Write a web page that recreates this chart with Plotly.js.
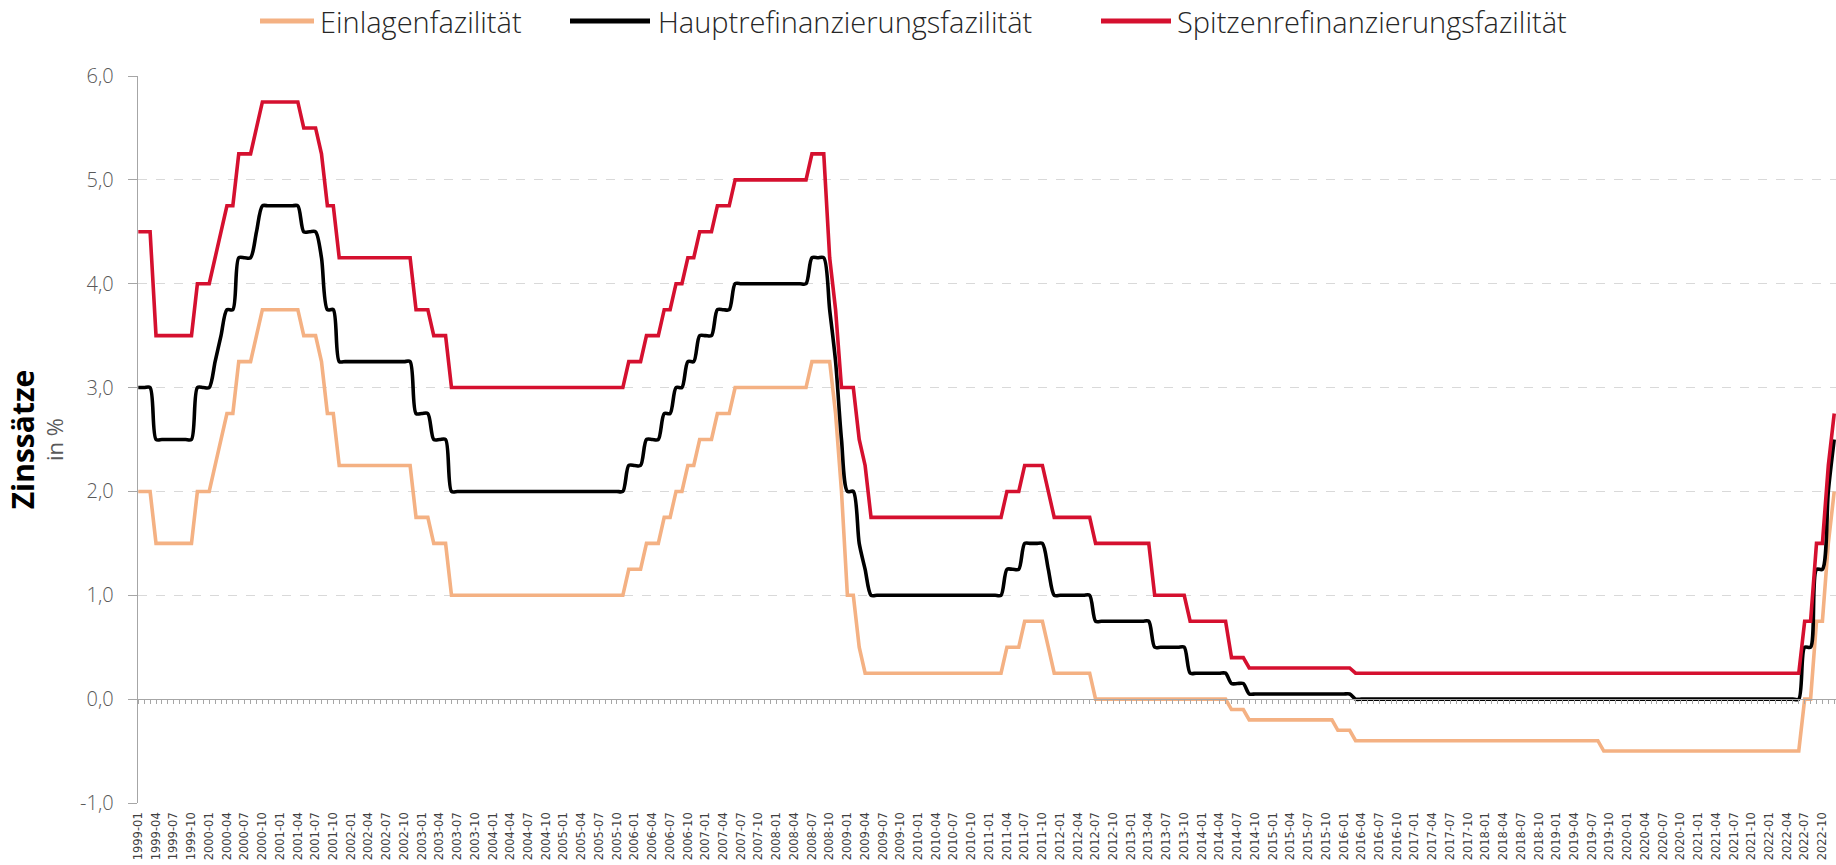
<!DOCTYPE html>
<html>
<head>
<meta charset="utf-8">
<script src="https://cdn.plot.ly/plotly-3.0.1.min.js"></script>
<style>
  html, body { margin: 0; padding: 0; background: #ffffff; }
  #chart { width: 1836px; height: 865px; }
</style>
</head>
<body>
<div id="chart"></div>
<script>
// ---- Categories (monthly, 1999-01 … 2022-12) ----
var years = [1999,2000,2001,2002,2003,2004,2005,2006,2007,2008,2009,2010,2011,2012,2013,2014,2015,2016,2017,2018,2019,2020,2021,2022];
var monthCodes = ["01","02","03","04","05","06","07","08","09","10","11","12"];
var months = [];
years.forEach(function (y) { monthCodes.forEach(function (m) { months.push(y + "-" + m); }); });

// ---- Series (month-end values, %) ----
var einlagenfazilitaet = [
  2.00,2.00,2.00,1.50,1.50,1.50,1.50,1.50,1.50,1.50,2.00,2.00,   // 1999
  2.00,2.25,2.50,2.75,2.75,3.25,3.25,3.25,3.50,3.75,3.75,3.75,   // 2000
  3.75,3.75,3.75,3.75,3.50,3.50,3.50,3.25,2.75,2.75,2.25,2.25,   // 2001
  2.25,2.25,2.25,2.25,2.25,2.25,2.25,2.25,2.25,2.25,2.25,1.75,   // 2002
  1.75,1.75,1.50,1.50,1.50,1.00,1.00,1.00,1.00,1.00,1.00,1.00,   // 2003
  1.00,1.00,1.00,1.00,1.00,1.00,1.00,1.00,1.00,1.00,1.00,1.00,   // 2004
  1.00,1.00,1.00,1.00,1.00,1.00,1.00,1.00,1.00,1.00,1.00,1.25,   // 2005
  1.25,1.25,1.50,1.50,1.50,1.75,1.75,2.00,2.00,2.25,2.25,2.50,   // 2006
  2.50,2.50,2.75,2.75,2.75,3.00,3.00,3.00,3.00,3.00,3.00,3.00,   // 2007
  3.00,3.00,3.00,3.00,3.00,3.00,3.25,3.25,3.25,3.25,2.75,2.00,   // 2008
  1.00,1.00,0.50,0.25,0.25,0.25,0.25,0.25,0.25,0.25,0.25,0.25,   // 2009
  0.25,0.25,0.25,0.25,0.25,0.25,0.25,0.25,0.25,0.25,0.25,0.25,   // 2010
  0.25,0.25,0.25,0.50,0.50,0.50,0.75,0.75,0.75,0.75,0.50,0.25,   // 2011
  0.25,0.25,0.25,0.25,0.25,0.25,0.00,0.00,0.00,0.00,0.00,0.00,   // 2012
  0.00,0.00,0.00,0.00,0.00,0.00,0.00,0.00,0.00,0.00,0.00,0.00,   // 2013
  0.00,0.00,0.00,0.00,0.00,-0.10,-0.10,-0.10,-0.20,-0.20,-0.20,-0.20, // 2014
  -0.20,-0.20,-0.20,-0.20,-0.20,-0.20,-0.20,-0.20,-0.20,-0.20,-0.20,-0.30, // 2015
  -0.30,-0.30,-0.40,-0.40,-0.40,-0.40,-0.40,-0.40,-0.40,-0.40,-0.40,-0.40, // 2016
  -0.40,-0.40,-0.40,-0.40,-0.40,-0.40,-0.40,-0.40,-0.40,-0.40,-0.40,-0.40, // 2017
  -0.40,-0.40,-0.40,-0.40,-0.40,-0.40,-0.40,-0.40,-0.40,-0.40,-0.40,-0.40, // 2018
  -0.40,-0.40,-0.40,-0.40,-0.40,-0.40,-0.40,-0.40,-0.50,-0.50,-0.50,-0.50, // 2019
  -0.50,-0.50,-0.50,-0.50,-0.50,-0.50,-0.50,-0.50,-0.50,-0.50,-0.50,-0.50, // 2020
  -0.50,-0.50,-0.50,-0.50,-0.50,-0.50,-0.50,-0.50,-0.50,-0.50,-0.50,-0.50, // 2021
  -0.50,-0.50,-0.50,-0.50,-0.50,-0.50,0.00,0.00,0.75,0.75,1.50,2.00        // 2022
];

var hauptrefinanzierung = [
  3.00,3.00,3.00,2.50,2.50,2.50,2.50,2.50,2.50,2.50,3.00,3.00,   // 1999
  3.00,3.25,3.50,3.75,3.75,4.25,4.25,4.25,4.50,4.75,4.75,4.75,   // 2000
  4.75,4.75,4.75,4.75,4.50,4.50,4.50,4.25,3.75,3.75,3.25,3.25,   // 2001
  3.25,3.25,3.25,3.25,3.25,3.25,3.25,3.25,3.25,3.25,3.25,2.75,   // 2002
  2.75,2.75,2.50,2.50,2.50,2.00,2.00,2.00,2.00,2.00,2.00,2.00,   // 2003
  2.00,2.00,2.00,2.00,2.00,2.00,2.00,2.00,2.00,2.00,2.00,2.00,   // 2004
  2.00,2.00,2.00,2.00,2.00,2.00,2.00,2.00,2.00,2.00,2.00,2.25,   // 2005
  2.25,2.25,2.50,2.50,2.50,2.75,2.75,3.00,3.00,3.25,3.25,3.50,   // 2006
  3.50,3.50,3.75,3.75,3.75,4.00,4.00,4.00,4.00,4.00,4.00,4.00,   // 2007
  4.00,4.00,4.00,4.00,4.00,4.00,4.25,4.25,4.25,3.75,3.25,2.50,   // 2008
  2.00,2.00,1.50,1.25,1.00,1.00,1.00,1.00,1.00,1.00,1.00,1.00,   // 2009
  1.00,1.00,1.00,1.00,1.00,1.00,1.00,1.00,1.00,1.00,1.00,1.00,   // 2010
  1.00,1.00,1.00,1.25,1.25,1.25,1.50,1.50,1.50,1.50,1.25,1.00,   // 2011
  1.00,1.00,1.00,1.00,1.00,1.00,0.75,0.75,0.75,0.75,0.75,0.75,   // 2012
  0.75,0.75,0.75,0.75,0.50,0.50,0.50,0.50,0.50,0.50,0.25,0.25,   // 2013
  0.25,0.25,0.25,0.25,0.25,0.15,0.15,0.15,0.05,0.05,0.05,0.05,   // 2014
  0.05,0.05,0.05,0.05,0.05,0.05,0.05,0.05,0.05,0.05,0.05,0.05,   // 2015
  0.05,0.05,0.00,0.00,0.00,0.00,0.00,0.00,0.00,0.00,0.00,0.00,   // 2016
  0.00,0.00,0.00,0.00,0.00,0.00,0.00,0.00,0.00,0.00,0.00,0.00,   // 2017
  0.00,0.00,0.00,0.00,0.00,0.00,0.00,0.00,0.00,0.00,0.00,0.00,   // 2018
  0.00,0.00,0.00,0.00,0.00,0.00,0.00,0.00,0.00,0.00,0.00,0.00,   // 2019
  0.00,0.00,0.00,0.00,0.00,0.00,0.00,0.00,0.00,0.00,0.00,0.00,   // 2020
  0.00,0.00,0.00,0.00,0.00,0.00,0.00,0.00,0.00,0.00,0.00,0.00,   // 2021
  0.00,0.00,0.00,0.00,0.00,0.00,0.50,0.50,1.25,1.25,2.00,2.50    // 2022
];

var spitzenrefinanzierung = [
  4.50,4.50,4.50,3.50,3.50,3.50,3.50,3.50,3.50,3.50,4.00,4.00,   // 1999
  4.00,4.25,4.50,4.75,4.75,5.25,5.25,5.25,5.50,5.75,5.75,5.75,   // 2000
  5.75,5.75,5.75,5.75,5.50,5.50,5.50,5.25,4.75,4.75,4.25,4.25,   // 2001
  4.25,4.25,4.25,4.25,4.25,4.25,4.25,4.25,4.25,4.25,4.25,3.75,   // 2002
  3.75,3.75,3.50,3.50,3.50,3.00,3.00,3.00,3.00,3.00,3.00,3.00,   // 2003
  3.00,3.00,3.00,3.00,3.00,3.00,3.00,3.00,3.00,3.00,3.00,3.00,   // 2004
  3.00,3.00,3.00,3.00,3.00,3.00,3.00,3.00,3.00,3.00,3.00,3.25,   // 2005
  3.25,3.25,3.50,3.50,3.50,3.75,3.75,4.00,4.00,4.25,4.25,4.50,   // 2006
  4.50,4.50,4.75,4.75,4.75,5.00,5.00,5.00,5.00,5.00,5.00,5.00,   // 2007
  5.00,5.00,5.00,5.00,5.00,5.00,5.25,5.25,5.25,4.25,3.75,3.00,   // 2008
  3.00,3.00,2.50,2.25,1.75,1.75,1.75,1.75,1.75,1.75,1.75,1.75,   // 2009
  1.75,1.75,1.75,1.75,1.75,1.75,1.75,1.75,1.75,1.75,1.75,1.75,   // 2010
  1.75,1.75,1.75,2.00,2.00,2.00,2.25,2.25,2.25,2.25,2.00,1.75,   // 2011
  1.75,1.75,1.75,1.75,1.75,1.75,1.50,1.50,1.50,1.50,1.50,1.50,   // 2012
  1.50,1.50,1.50,1.50,1.00,1.00,1.00,1.00,1.00,1.00,0.75,0.75,   // 2013
  0.75,0.75,0.75,0.75,0.75,0.40,0.40,0.40,0.30,0.30,0.30,0.30,   // 2014
  0.30,0.30,0.30,0.30,0.30,0.30,0.30,0.30,0.30,0.30,0.30,0.30,   // 2015
  0.30,0.30,0.25,0.25,0.25,0.25,0.25,0.25,0.25,0.25,0.25,0.25,   // 2016
  0.25,0.25,0.25,0.25,0.25,0.25,0.25,0.25,0.25,0.25,0.25,0.25,   // 2017
  0.25,0.25,0.25,0.25,0.25,0.25,0.25,0.25,0.25,0.25,0.25,0.25,   // 2018
  0.25,0.25,0.25,0.25,0.25,0.25,0.25,0.25,0.25,0.25,0.25,0.25,   // 2019
  0.25,0.25,0.25,0.25,0.25,0.25,0.25,0.25,0.25,0.25,0.25,0.25,   // 2020
  0.25,0.25,0.25,0.25,0.25,0.25,0.25,0.25,0.25,0.25,0.25,0.25,   // 2021
  0.25,0.25,0.25,0.25,0.25,0.25,0.75,0.75,1.50,1.50,2.25,2.75    // 2022
];

// ---- Tick labels ----
var xTickLabels = months.filter(function (m, i) { return i % 3 === 0; });
var yTickVals = [-1, 0, 1, 2, 3, 4, 5, 6];
var yTickText = ["-1,0", "0,0", "1,0", "2,0", "3,0", "4,0", "5,0", "6,0"];

var seriesNames = ["Einlagenfazilität", "Hauptrefinanzierungsfazilität", "Spitzenrefinanzierungsfazilität"];
var seriesColors = ["#F4B183", "#000000", "#D5102F"];

var textFont = "'Open Sans', Lato, sans-serif";

// ---- Geometry helpers (pixels -> paper coords) ----
var M = { l: 138, r: 0, t: 76, b: 62 };
var W = 1836, H = 865;
var plotW = W - M.l - M.r, plotH = H - M.t - M.b;
function px(xp) { return (xp - M.l) / plotW; }
function py(yp) { return (H - M.b - yp) / plotH; }

var traces = [
  { x: months, y: einlagenfazilitaet, name: seriesNames[0], type: "scatter", mode: "lines",
    line: { color: seriesColors[0], width: 3.6 }, showlegend: false },
  { x: months, y: hauptrefinanzierung, name: seriesNames[1], type: "scatter", mode: "lines",
    line: { color: seriesColors[1], width: 3.6, shape: "spline", smoothing: 0.8 }, showlegend: false },
  { x: months, y: spitzenrefinanzierung, name: seriesNames[2], type: "scatter", mode: "lines",
    line: { color: seriesColors[2], width: 3.6 }, showlegend: false },
  // helper trace carrying the zero-line axis with monthly tick marks
  { x: months, y: einlagenfazilitaet, xaxis: "x2", type: "scatter", mode: "lines",
    line: { color: "rgba(0,0,0,0)", width: 0 }, showlegend: false, hoverinfo: "skip" }
];

// ---- Legend (drawn as line samples + text at top) ----
var legendLines = [[260, 314], [570, 650], [1101, 1171]];
var legendTextX = [318, 656, 1175];
var legendY = 21;
var shapes = [], annotations = [];
seriesNames.forEach(function (n, i) {
  shapes.push({ type: "line", xref: "paper", yref: "paper",
    x0: px(legendLines[i][0]), x1: px(legendLines[i][1]), y0: py(legendY), y1: py(legendY),
    line: { color: seriesColors[i], width: 5 } });
  annotations.push({ xref: "paper", yref: "paper", x: px(legendTextX[i]), y: py(legendY),
    xanchor: "left", yanchor: "middle", showarrow: false, text: n,
    font: { family: textFont, size: 29, color: "#262626", weight: 300 } });
});

var xRange = [-0.05, months.length - 1 + 0.3];

var layout = {
  width: W, height: H,
  paper_bgcolor: "#ffffff", plot_bgcolor: "#ffffff",
  margin: M,
  font: { family: textFont, color: "#404040" },
  showlegend: false,
  shapes: shapes,
  annotations: annotations,
  xaxis: {
    type: "category", categoryorder: "array", categoryarray: months,
    range: xRange, showgrid: false, zeroline: false, showline: false,
    ticks: "", tickmode: "array", tickvals: xTickLabels, ticktext: xTickLabels,
    tickangle: -90, tickfont: { family: "'DejaVu Sans', sans-serif", size: 11.5, color: "#404040" },
    ticklabelstandoff: 6, fixedrange: true
  },
  xaxis2: {
    type: "category", categoryorder: "array", categoryarray: months,
    overlaying: "x", anchor: "free", position: 1 / 7, side: "bottom",
    range: xRange, showgrid: false, zeroline: false,
    showline: true, linecolor: "#A6A6A6", linewidth: 1.3,
    ticks: "outside", ticklen: 4, tickwidth: 1, tickcolor: "#A6A6A6",
    tickmode: "linear", tick0: 0, dtick: 1, showticklabels: false, fixedrange: true
  },
  yaxis: {
    range: [-1, 6], tickmode: "array", tickvals: yTickVals, ticktext: yTickText,
    showgrid: true, gridcolor: "#D9D9D9", griddash: "dash", gridwidth: 1,
    zeroline: false, showline: true, linecolor: "#A6A6A6", linewidth: 1.3,
    ticks: "outside", ticklen: 9, tickcolor: "#A6A6A6", tickwidth: 1,
    tickfont: { family: textFont, size: 20, color: "#595959", weight: 300 },
    ticklabelstandoff: 10,
    title: {
      text: "<span style='font-size:30px;font-weight:bold;color:#000000'>Zinssätze</span><br>in %",
      font: { family: textFont, size: 22, color: "#595959" }, standoff: 10
    },
    fixedrange: true
  }
};

Plotly.newPlot("chart", traces, layout, { displayModeBar: false, staticPlot: true });
</script>
</body>
</html>
